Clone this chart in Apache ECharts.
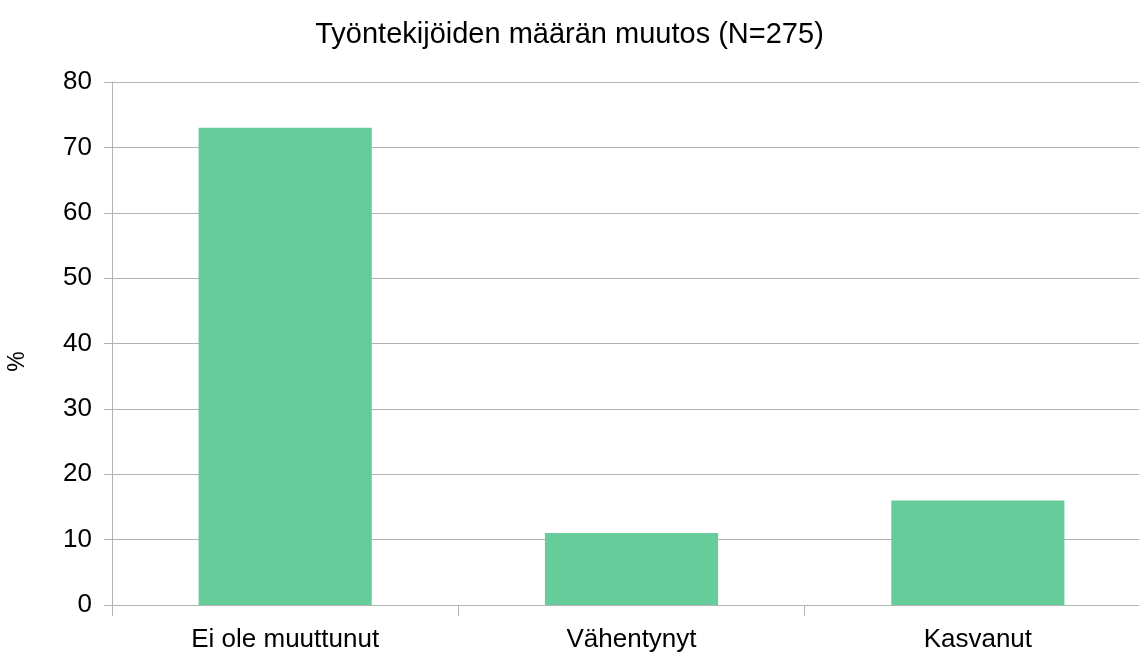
<html>
  <head>
    <meta charset="utf-8" />
    <script src="https://cdn.jsdelivr.net/npm/echarts@6.0.0/dist/echarts.min.js"></script>
    <style>
      body {
        height: 100vh;
        width: 100vw;
        margin: 0;
        background: #ffffff;
      }

      #main {
        width: 1139px;
        height: 653px;
      }
    </style>
  </head>
  <body>
    <div id="main"></div>
    <script>
      const categories = ['Ei ole muuttunut', 'Vähentynyt', 'Kasvanut'];
      const percentages = [73, 11, 16];
      const titleText = 'Työntekijöiden määrän muutos (N=275)';
      const yAxisName = '%';

      const font = '"Liberation Sans", Arial, sans-serif';
      const chart = echarts.init(document.getElementById('main'));

      chart.setOption({
        animation: false,
        textStyle: { fontFamily: font },
        title: {
          text: titleText,
          left: 'center',
          top: 15,
          textStyle: {
            fontFamily: font,
            fontSize: 29,
            fontWeight: 'normal',
            color: '#000000',
          },
        },
        grid: {
          left: 112,
          top: 82,
          width: 1039,
          bottom: 48,
          containLabel: false,
          outerBoundsMode: 'none',
        },
        xAxis: {
          type: 'category',
          data: categories,
          axisLine: { lineStyle: { color: '#b3b3b3', width: 1 } },
          axisTick: { show: true, length: 11, lineStyle: { color: '#b3b3b3' } },
          axisLabel: {
            color: '#000000',
            fontSize: 26,
            fontFamily: font,
            margin: 22,
          },
        },
        yAxis: {
          type: 'value',
          min: 0,
          max: 80,
          interval: 10,
          name: yAxisName,
          nameLocation: 'middle',
          nameGap: 83,
          nameRotate: 90,
          nameTextStyle: {
            color: '#000000',
            fontSize: 23,
            fontFamily: font,
            // push the rotated "%" a little below the middle of the axis
            padding: [0, 36, 0, 0],
          },
          axisLine: { show: true, lineStyle: { color: '#b3b3b3', width: 1 } },
          axisTick: { show: true, length: 8, lineStyle: { color: '#b3b3b3' } },
          splitLine: { lineStyle: { color: '#b3b3b3', width: 1 } },
          axisLabel: {
            color: '#000000',
            fontSize: 26,
            fontFamily: font,
            margin: 20,
          },
        },
        series: [
          {
            type: 'bar',
            data: percentages,
            barWidth: '50%',
            itemStyle: { color: '#66cc99' },
          },
        ],
      });
    </script>
  </body>
</html>
